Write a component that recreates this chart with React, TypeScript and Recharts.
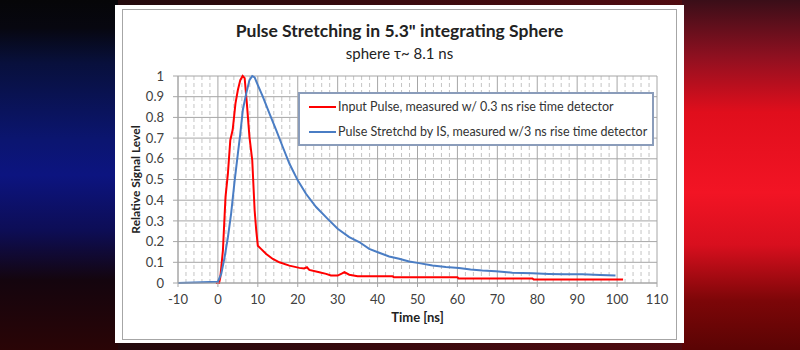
import { LineChart, Line, XAxis, YAxis, CartesianGrid, Legend } from "recharts";

// input pulse, 0.3 ns detector
const redTime = [-0.5, 0.3, 0.6, 1.25, 1.9, 2.5, 3.1, 3.7, 4.4, 5.0, 5.6, 6.2, 6.7, 7.25, 7.9, 8.6, 9.2, 9.6, 10.0, 10.8, 12.1, 13.75, 15.4, 17.9, 20.4, 21.6, 22.3, 22.9, 25.4, 27.1, 28.3, 30.0, 31.0, 31.7, 32.9, 35.0, 43.8, 44.0, 60.0, 60.3, 78.8, 79.1, 101.5];
const redLevel = [0, 0, 0.027, 0.157, 0.415, 0.528, 0.69, 0.74, 0.868, 0.932, 0.98, 1.0, 0.99, 0.868, 0.706, 0.593, 0.35, 0.254, 0.18, 0.165, 0.14, 0.116, 0.1, 0.084, 0.073, 0.07, 0.076, 0.063, 0.052, 0.044, 0.036, 0.036, 0.045, 0.052, 0.04, 0.033, 0.033, 0.028, 0.028, 0.022, 0.022, 0.017, 0.017];

// stretched pulse, 3 ns detector
const blueTime = [-10, 0, 0.83, 1.67, 2.5, 3.3, 4.2, 5.0, 5.6, 6.25, 7.1, 7.9, 8.6, 9.2, 10.0, 11.25, 12.9, 14.6, 16.25, 17.9, 20.0, 22.1, 24.6, 27.5, 30.0, 32.9, 35.4, 37.9, 40.4, 42.9, 45.4, 47.9, 50.4, 53.75, 57.1, 60.4, 63.3, 66.25, 69.6, 73.75, 78.75, 82.9, 86.7, 91.25, 95.8, 99.6];
const blueLevel = [0, 0.006, 0.044, 0.124, 0.22, 0.334, 0.496, 0.625, 0.72, 0.837, 0.916, 0.98, 1.0, 0.993, 0.956, 0.9, 0.82, 0.738, 0.657, 0.577, 0.496, 0.43, 0.367, 0.31, 0.262, 0.222, 0.198, 0.165, 0.146, 0.128, 0.117, 0.104, 0.096, 0.085, 0.077, 0.073, 0.065, 0.06, 0.057, 0.05, 0.047, 0.044, 0.042, 0.042, 0.039, 0.036];

const xTicks = [-10, 0, 10, 20, 30, 40, 50, 60, 70, 80, 90, 100, 110];
const yTicks = [0, 0.1, 0.2, 0.3, 0.4, 0.5, 0.6, 0.7, 0.8, 0.9, 1];
const minorX = xTicks.flatMap((t) => [2, 4, 6, 8].map((d) => t + d)).filter((v) => v < 110);

const redData = redTime.map((t, i) => ({ t, v: redLevel[i] }));
const blueData = blueTime.map((t, i) => ({ t, v: blueLevel[i] }));

const FONT = "Lato, 'Open Sans', sans-serif";

const renderLegend = ({ payload }: any) => (
  <div
    style={{
      width: 356,
      height: 54,
      boxSizing: "border-box",
      border: "2px solid #8a9cba",
      background: "#fff",
      fontFamily: FONT,
      fontSize: 12.5,
      color: "#333",
    }}
  >
    {(payload || []).map((entry: any) => (
      <div key={entry.value} style={{ display: "flex", alignItems: "center", height: 25 }}>
        <span style={{ width: 27, height: 2, background: entry.color, marginLeft: 9, marginRight: 2 }} />
        <span>{entry.value}</span>
      </div>
    ))}
  </div>
);

const leftGlow =
  "linear-gradient(180deg, #060608 0%, #070710 8%, #08103c 18%, #0b1570 40%, #0c1480 50%, #0d0d55 66%, #14050e 80%, #2a0506 100%) left top / 118px 100% no-repeat";
const rightGlow =
  "linear-gradient(180deg, #3a0e18 0%, #8e1020 16%, #e00e1c 32%, #f21424 55%, #d80f1e 70%, #7c0608 86%, #5a0404 100%) right top / 118px 100% no-repeat";
const middle = "linear-gradient(90deg, #1a0a0c 0%, #3a0a0e 50%, #5a0c12 100%)";

export default function App() {
  return (
    <div
      style={{
        position: "absolute",
        left: 0,
        top: 0,
        width: 800,
        height: 350,
        overflow: "hidden",
        background: `${leftGlow}, ${rightGlow}, ${middle}`,
      }}
    >
      <div style={{ position: "absolute", left: 115, top: 5, width: 569, height: 338, background: "#fff" }} />
      <div
        style={{
          position: "absolute",
          left: 122,
          top: 9,
          width: 555,
          height: 331,
          boxSizing: "border-box",
          border: "1px solid #a6a6a6",
        }}
      />
      <div
        style={{
          position: "absolute",
          left: 122,
          top: 20,
          width: 555,
          textAlign: "center",
          fontFamily: FONT,
          fontWeight: 700,
          fontSize: 17.5,
          lineHeight: "22px",
          color: "#222",
        }}
      >
        Pulse Stretching in 5.3" integrating Sphere
      </div>
      <div
        style={{
          position: "absolute",
          left: 122,
          top: 43,
          width: 555,
          textAlign: "center",
          fontFamily: FONT,
          fontSize: 15,
          lineHeight: "20px",
          color: "#222",
        }}
      >
        sphere τ~ 8.1 ns
      </div>
      <div style={{ position: "absolute", left: 0, top: 0 }}>
        <LineChart width={800} height={350} margin={{ top: 76, right: 143, bottom: 37, left: 133 }}>
          <CartesianGrid verticalValues={minorX} horizontal={false} stroke="#c4c4c4" strokeDasharray="4 3" />
          <CartesianGrid stroke="#a6a6a6" />
          <XAxis
            type="number"
            dataKey="t"
            domain={[-10, 110]}
            ticks={xTicks}
            interval={0}
            allowDataOverflow
            stroke="#a6a6a6"
            tickSize={4}
            tickMargin={8}
            tick={{ fill: "#404040", fontSize: 13, fontFamily: FONT }}
            label={{
              value: "Time [ns]",
              position: "bottom",
              offset: 0,
              style: { fill: "#222", fontSize: 13, fontWeight: 700, fontFamily: FONT },
            }}
          />
          <YAxis
            type="number"
            dataKey="v"
            width={45}
            domain={[0, 1]}
            ticks={yTicks}
            interval={0}
            stroke="#a6a6a6"
            tickSize={5}
            tickMargin={9}
            tick={{ fill: "#404040", fontSize: 13, fontFamily: FONT }}
            label={{
              value: "Relative Signal Level",
              angle: -90,
              position: "insideLeft",
              offset: 3,
              style: { textAnchor: "middle", fill: "#222", fontSize: 12, fontWeight: 700, fontFamily: FONT },
            }}
          />
          <Legend
            layout="horizontal"
            verticalAlign="middle"
            align="center"
            content={renderLegend}
            wrapperStyle={{ position: "absolute", left: 298, top: 92, width: 356, height: 54 }}
          />
          <Line
            name="Input Pulse, measured w/ 0.3 ns rise time detector"
            data={redData}
            dataKey="v"
            stroke="#ff0000"
            strokeWidth={2}
            dot={false}
            isAnimationActive={false}
          />
          <Line
            name="Pulse Stretchd by IS, measured w/3 ns rise time detector"
            data={blueData}
            dataKey="v"
            stroke="#4a7dc4"
            strokeWidth={2}
            dot={false}
            isAnimationActive={false}
          />
        </LineChart>
      </div>
    </div>
  );
}
